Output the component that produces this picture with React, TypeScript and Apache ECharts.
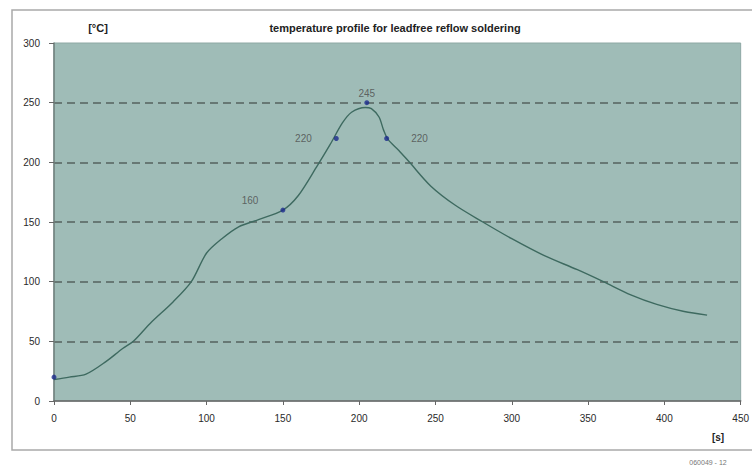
import React, { useEffect, useRef } from "react";
import * as echarts from "echarts";

const timeS: number[] = [0, 10, 21, 34, 45, 52, 63, 78, 90, 100, 110, 121, 134, 150, 160, 172, 181, 189, 195, 204, 208, 213, 216, 219, 226, 233, 247, 263, 281, 300, 321, 343, 360, 378, 395, 413, 428];
const tempC: number[] = [18, 20, 22.5, 33, 44, 50, 65, 83, 100, 124, 136, 146, 152, 160, 172, 196, 215, 233, 242, 246, 245, 238, 227, 219, 210, 200, 180, 164, 150, 136, 122, 110, 100, 89, 81, 75, 72];

const markT: number[] = [0, 150, 185, 205, 218];
const markV: number[] = [20, 160, 220, 250, 220];
const markLabels: string[] = ["", "160", "220", "245", "220"];
const markLabelPos: string[] = ["top", "left", "left", "top", "right"];

const title = "temperature profile for leadfree reflow soldering";
const yUnit = "[°C]";
const xUnit = "[s]";
const footnote = "060049 - 12";

export default function App() {
  const ref = useRef<HTMLDivElement>(null);
  useEffect(() => {
    if (!ref.current) return;
    const chart = echarts.init(ref.current, undefined, { renderer: "svg" });
    const font = "'Liberation Sans', Arial, sans-serif";
    const lineData = timeS.map((t, i) => [t, tempC[i]]);
    const markData = markT.map((t, i) => ({
      value: [t, markV[i]],
      label: {
        show: markLabels[i] !== "",
        formatter: markLabels[i],
        position: markLabelPos[i] as any,
        distance: markLabelPos[i] === "top" ? 2 : 22,
        offset: markLabelPos[i] === "left" && markLabels[i] === "160" ? [0, -10] : [0, 0],
        color: "#4a4a4a",
        fontSize: 10,
        fontFamily: font,
      },
    }));
    chart.setOption({
      animation: false,
      backgroundColor: "#ffffff",
      textStyle: { fontFamily: font },
      grid: {
        left: 54,
        top: 43,
        right: 8,
        bottom: 68,
        show: true,
        backgroundColor: "#9fbcb7",
        borderColor: "#8ea8a4",
        borderWidth: 1,
      },
      xAxis: {
        type: "value",
        min: 0,
        max: 450,
        interval: 50,
        axisLine: { show: true, onZero: false, lineStyle: { color: "#666", width: 1.5 } },
        axisTick: { show: true, length: 4, lineStyle: { color: "#666" } },
        axisLabel: { color: "#2a2a2a", fontSize: 10, margin: 12, fontFamily: font },
        splitLine: { show: false },
      },
      yAxis: {
        type: "value",
        min: 0,
        max: 300,
        interval: 50,
        axisLine: { show: true, lineStyle: { color: "#6f7f7c", width: 1.5 } },
        axisTick: { show: true, length: 5, lineStyle: { color: "#666" } },
        axisLabel: { color: "#2a2a2a", fontSize: 10, margin: 14, fontFamily: font },
        splitLine: {
          show: true,
          showMinLine: false,
          showMaxLine: false,
          lineStyle: { color: "#56615f", type: [8, 5], width: 1.6 },
        },
      },
      graphic: [
        {
          type: "rect",
          silent: true,
          shape: { x: 12, y: 10, width: 760, height: 440 },
          style: { fill: "none", stroke: "#a9a9a9", lineWidth: 1.5 },
          z: -10,
        },
        {
          type: "text",
          x: 395,
          y: 28,
          style: {
            text: title,
            fill: "#222",
            font: `bold 11px ${font}`,
            textAlign: "center",
            textVerticalAlign: "middle",
          },
        },
        {
          type: "text",
          x: 98,
          y: 28,
          style: {
            text: yUnit,
            fill: "#222",
            font: `bold 11px ${font}`,
            textAlign: "center",
            textVerticalAlign: "middle",
          },
        },
        {
          type: "text",
          x: 718,
          y: 437,
          style: {
            text: xUnit,
            fill: "#222",
            font: `bold 10px ${font}`,
            textAlign: "center",
            textVerticalAlign: "middle",
          },
        },
        {
          type: "text",
          x: 708,
          y: 462,
          style: {
            text: footnote,
            fill: "#777",
            font: `7px ${font}`,
            textAlign: "center",
            textVerticalAlign: "middle",
          },
        },
      ],
      series: [
        {
          type: "line",
          data: lineData,
          smooth: 0.3,
          showSymbol: false,
          lineStyle: { color: "#3e6a60", width: 1.4 },
          z: 2,
        },
        {
          type: "scatter",
          data: markData,
          symbol: "circle",
          symbolSize: 5,
          itemStyle: { color: "#1c2b8c" },
          z: 3,
        },
      ],
    });
    return () => chart.dispose();
  }, []);
  return (
    <div
      ref={ref}
      style={{ position: "fixed", left: 0, top: 0, width: 752, height: 469 }}
    />
  );
}
